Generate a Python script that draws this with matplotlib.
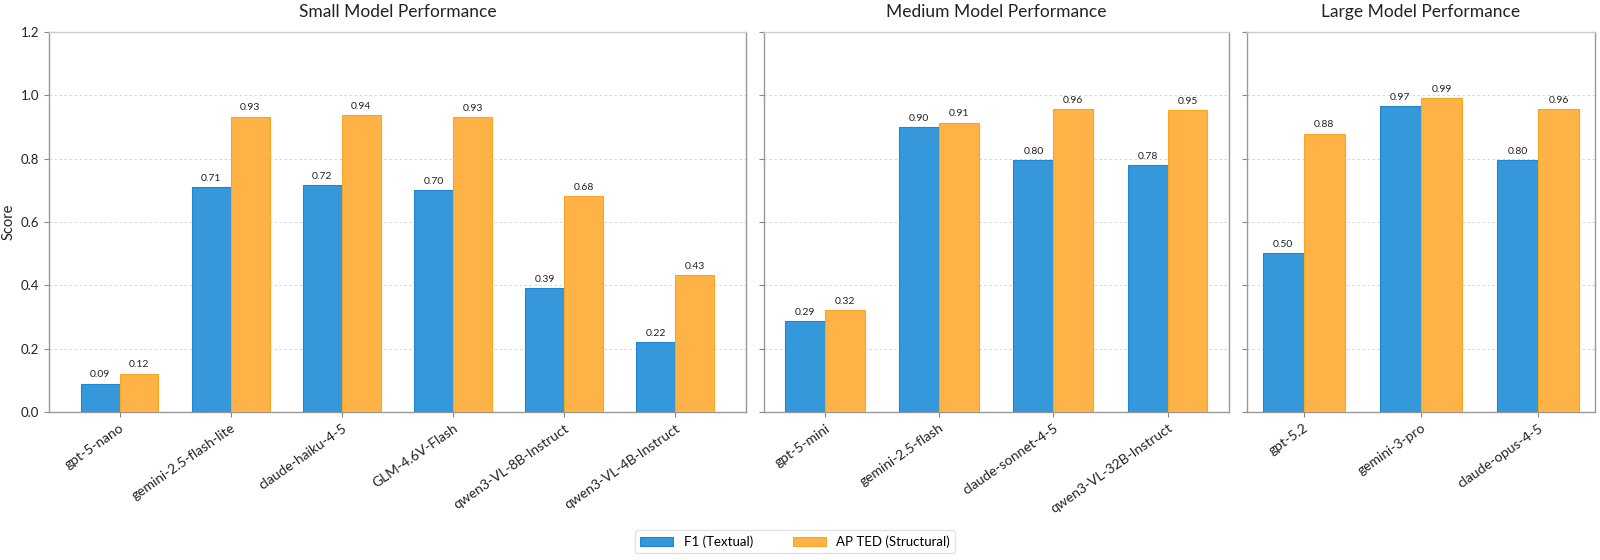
import numpy as np
import matplotlib.pyplot as plt

plt.rcParams['font.family'] = ['Lato', 'DejaVu Sans']

# data
small_models = ['gpt-5-nano', 'gemini-2.5-flash-lite', 'claude-haiku-4-5',
                'GLM-4.6V-Flash', 'qwen3-VL-8B-Instruct', 'qwen3-VL-4B-Instruct']
small_f1 = [0.090, 0.710, 0.717, 0.700, 0.392, 0.221]
small_ted = [0.122, 0.933, 0.938, 0.930, 0.681, 0.432]

medium_models = ['gpt-5-mini', 'gemini-2.5-flash', 'claude-sonnet-4-5', 'qwen3-VL-32B-Instruct']
medium_f1 = [0.287, 0.900, 0.796, 0.781]
medium_ted = [0.322, 0.914, 0.957, 0.954]

large_models = ['gpt-5.2', 'gemini-3-pro', 'claude-opus-4-5']
large_f1 = [0.503, 0.966, 0.796]
large_ted = [0.879, 0.992, 0.957]

panels = [
    ('Small Model Performance', small_models, small_f1, small_ted),
    ('Medium Model Performance', medium_models, medium_f1, medium_ted),
    ('Large Model Performance', large_models, large_f1, large_ted),
]

blue = '#3498db'
blue_edge = '#1f86cf'
orange = '#ffb347'
orange_edge = '#f5a623'
width = 0.35

fig, axes = plt.subplots(1, 3, figsize=(16, 5.6), dpi=100, sharey=True,
                         gridspec_kw={'width_ratios': [6, 4, 3]})
fig.subplots_adjust(left=0.0306, right=0.997, top=0.943, bottom=0.264, wspace=0.036)

for ax, (title, models, f1, ted) in zip(axes, panels):
    x = np.arange(len(models))
    b1 = ax.bar(x - width / 2, f1, width, color=blue, edgecolor=blue_edge,
                linewidth=0.8, label='F1 (Textual)', zorder=3)
    b2 = ax.bar(x + width / 2, ted, width, color=orange, edgecolor=orange_edge,
                linewidth=0.8, label='AP TED (Structural)', zorder=3)
    ax.bar_label(b1, fmt='%.2f', padding=3, fontsize=7.5, color='#222222')
    ax.bar_label(b2, fmt='%.2f', padding=3, fontsize=7.5, color='#222222')

    ax.set_title(title, fontsize=12.5, pad=11, color='#222222')
    ax.set_xticks(x)
    ax.set_xticklabels(models, rotation=35, ha='right', rotation_mode='anchor',
                       fontsize=10, color='#222222')
    ax.set_ylim(0, 1.2)
    ax.set_yticks(np.arange(0, 1.21, 0.2))
    ax.grid(axis='y', linestyle=(0, (3, 3)), color='#d0d0d0', linewidth=0.6, zorder=0)
    ax.tick_params(axis='both', colors='#888888', labelcolor='#222222', labelsize=9.5)
    ax.tick_params(axis='x', labelsize=10)
    for s in ax.spines.values():
        s.set_color('#999999')
        s.set_linewidth(1)
    ax.spines['top'].set_color('#cccccc')

axes[0].set_ylabel('Score', fontsize=10.5, color='#222222')

handles, labels = axes[0].get_legend_handles_labels()
leg = fig.legend(handles, labels, loc='lower center', bbox_to_anchor=(0.497, 0.0),
                 ncol=2, fontsize=9.5, frameon=True, handlelength=2.5, columnspacing=3)
leg.get_frame().set_edgecolor('#dddddd')

plt.savefig('out.png')
